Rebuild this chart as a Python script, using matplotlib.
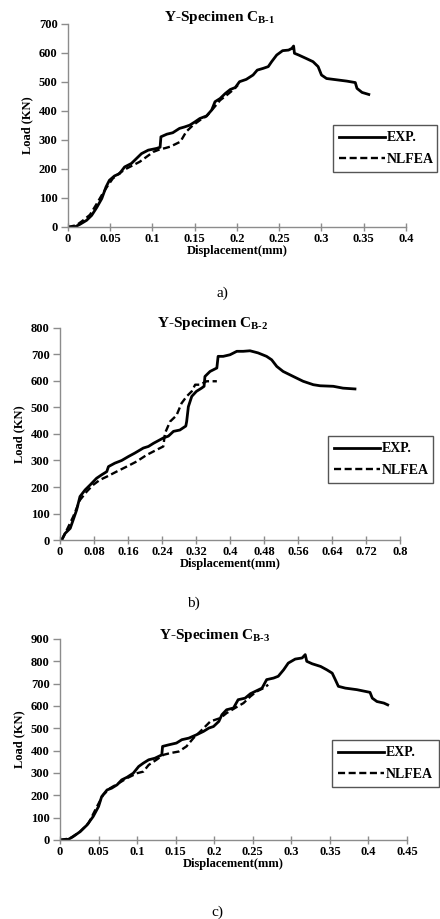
import matplotlib
matplotlib.use("Agg")
import matplotlib.pyplot as plt
from matplotlib.lines import Line2D

plt.rcParams['font.family'] = ['Liberation Serif', 'DejaVu Serif']
plt.rcParams['font.weight'] = 'bold'
plt.rcParams['mathtext.fontset'] = 'custom'
plt.rcParams['mathtext.rm'] = 'Liberation Serif:bold'
plt.rcParams['mathtext.bf'] = 'Liberation Serif:bold'
plt.rcParams['mathtext.it'] = 'Liberation Serif:bold'

# ---- Panel a data ----
a_exp_x = [0, 0.008, 0.014, 0.022, 0.028, 0.034, 0.040, 0.045, 0.049, 0.055, 0.061, 0.067, 0.075, 0.081,
           0.087, 0.095, 0.105, 0.109, 0.110, 0.117, 0.124, 0.132, 0.138, 0.144, 0.150, 0.156, 0.164, 0.170,
           0.174, 0.180, 0.186, 0.192, 0.198, 0.203, 0.211, 0.219, 0.224, 0.231, 0.237, 0.241, 0.247, 0.254,
           0.261, 0.265, 0.267, 0.268, 0.273, 0.282, 0.290, 0.296, 0.300, 0.306, 0.314, 0.330, 0.340, 0.342,
           0.348, 0.356]
a_exp_y = [0, 0, 9, 23, 40, 67, 98, 138, 161, 176, 184, 207, 219, 236,
           253, 265, 271, 275, 311, 320, 325, 340, 345, 351, 362, 374, 383, 403,
           432, 443, 460, 474, 481, 501, 509, 524, 541, 547, 553, 570, 593, 608,
           610, 616, 624, 599, 593, 581, 570, 553, 524, 512, 509, 503, 498, 478,
           464, 457]
a_fea_x = [0, 0.010, 0.018, 0.026, 0.034, 0.041, 0.047, 0.053, 0.061, 0.069, 0.077, 0.085, 0.093, 0.101,
           0.109, 0.115, 0.121, 0.133, 0.140, 0.148, 0.156, 0.164, 0.172, 0.180, 0.188, 0.196, 0.201]
a_fea_y = [0, 6, 23, 42, 80, 115, 142, 167, 186, 201, 213, 225, 242, 259,
           268, 272, 277, 294, 329, 351, 368, 382, 409, 437, 455, 474, 489]

# ---- Panel b data ----
b_exp_x = [0.004, 0.012, 0.024, 0.031, 0.039, 0.047, 0.059, 0.071, 0.086, 0.098, 0.110, 0.114, 0.129,
           0.145, 0.161, 0.176, 0.196, 0.208, 0.220, 0.235, 0.243, 0.255, 0.267, 0.282, 0.296, 0.298,
           0.302, 0.310, 0.321, 0.333, 0.339, 0.341, 0.353, 0.369, 0.372, 0.384, 0.400, 0.416, 0.431,
           0.447, 0.466, 0.486, 0.498, 0.510, 0.525, 0.549, 0.572, 0.596, 0.612, 0.643, 0.666, 0.694]
b_exp_y = [0, 25, 44, 76, 113, 164, 189, 208, 233, 246, 258, 277, 290,
           300, 315, 328, 347, 353, 365, 378, 385, 392, 410, 415, 430, 447,
           503, 542, 561, 573, 580, 617, 636, 649, 693, 693, 699, 712, 712,
           714, 706, 693, 680, 655, 636, 617, 599, 586, 582, 580, 573, 570]
b_fea_x = [0.004, 0.016, 0.031, 0.047, 0.063, 0.078, 0.094, 0.110, 0.133, 0.157, 0.180, 0.204, 0.227,
           0.243, 0.247, 0.259, 0.274, 0.286, 0.298, 0.310, 0.318, 0.329, 0.345, 0.369]
b_fea_y = [0, 38, 88, 151, 183, 208, 227, 239, 258, 277, 296, 321, 340,
           353, 403, 447, 470, 516, 542, 561, 586, 586, 599, 599]

# ---- Panel c data ----
c_exp_x = [0, 0.011, 0.017, 0.026, 0.035, 0.043, 0.050, 0.054, 0.061, 0.067, 0.074, 0.080, 0.087, 0.095,
           0.102, 0.108, 0.115, 0.123, 0.132, 0.133, 0.141, 0.151, 0.158, 0.167, 0.177, 0.186, 0.193,
           0.199, 0.206, 0.210, 0.216, 0.225, 0.231, 0.240, 0.247, 0.253, 0.262, 0.268, 0.277, 0.283,
           0.290, 0.296, 0.305, 0.314, 0.318, 0.320, 0.327, 0.338, 0.346, 0.353, 0.357, 0.361, 0.370,
           0.385, 0.402, 0.405, 0.411, 0.420, 0.425]
c_exp_y = [0, 3, 15, 37, 67, 105, 150, 194, 224, 232, 247, 269, 281, 299,
           329, 344, 359, 366, 381, 419, 426, 434, 449, 456, 471, 486, 501,
           508, 531, 561, 583, 591, 628, 635, 655, 665, 680, 718, 725, 733,
           762, 792, 810, 815, 830, 800, 789, 777, 762, 747, 718, 688, 680,
           673, 661, 635, 620, 613, 605]
c_fea_x = [0, 0.013, 0.026, 0.037, 0.048, 0.056, 0.065, 0.076, 0.087, 0.100, 0.108, 0.115, 0.125, 0.134,
           0.143, 0.154, 0.164, 0.173, 0.182, 0.195, 0.208, 0.216, 0.227, 0.238, 0.247, 0.255, 0.264, 0.270]
c_fea_y = [0, 7, 37, 75, 150, 202, 232, 254, 277, 299, 306, 336, 359, 381,
           389, 396, 419, 456, 486, 531, 546, 568, 591, 613, 643, 665, 680, 695]

panels = [
    dict(rect=[0.1545, 0.7530, 0.7682, 0.2209], exp=(a_exp_x, a_exp_y), fea=(a_fea_x, a_fea_y),
         xlim=(0, 0.4), xticks=[0, 0.05, 0.1, 0.15, 0.2, 0.25, 0.3, 0.35, 0.4],
         xlabels=['0', '0.05', '0.1', '0.15', '0.2', '0.25', '0.3', '0.35', '0.4'],
         ylim=(0, 700), yticks=list(range(0, 701, 100)), sub='B-1', title_x=220, title_y=18,
         leg=(333, 123, 104, 49), cap='a)', cap_x=222, cap_y=293),
    dict(rect=[0.1364, 0.4124, 0.7727, 0.2307], exp=(b_exp_x, b_exp_y), fea=(b_fea_x, b_fea_y),
         xlim=(0, 0.8), xticks=[0, 0.08, 0.16, 0.24, 0.32, 0.4, 0.48, 0.56, 0.64, 0.72, 0.8],
         xlabels=['0', '0.08', '0.16', '0.24', '0.32', '0.4', '0.48', '0.56', '0.64', '0.72', '0.8'],
         ylim=(0, 800), yticks=list(range(0, 801, 100)), sub='B-2', title_x=213, title_y=323,
         leg=(328, 434, 105, 49), cap='b)', cap_x=193, cap_y=603),
    dict(rect=[0.1364, 0.0860, 0.7886, 0.2187], exp=(c_exp_x, c_exp_y), fea=(c_fea_x, c_fea_y),
         xlim=(0, 0.45), xticks=[0, 0.05, 0.1, 0.15, 0.2, 0.25, 0.3, 0.35, 0.4, 0.45],
         xlabels=['0', '0.05', '0.1', '0.15', '0.2', '0.25', '0.3', '0.35', '0.4', '0.45'],
         ylim=(0, 900), yticks=list(range(0, 901, 100)), sub='B-3', title_x=215, title_y=635,
         leg=(332, 738, 107, 49), cap='c)', cap_x=217, cap_y=912),
]

W, H = 440, 919
fig = plt.figure(figsize=(W / 100, H / 100), dpi=100)
spine_c = '#8c8c8c'
dash = (0, (3.0, 1.5))

for p in panels:
    ax = fig.add_axes(p['rect'])
    ax.plot(*p['exp'], color='black', lw=2.0, solid_joinstyle='round')
    ax.plot(*p['fea'], color='black', lw=1.7, ls=dash)
    ax.set_xlim(*p['xlim'])
    ax.set_ylim(*p['ylim'])
    ax.set_xticks(p['xticks'])
    ax.set_xticklabels(p['xlabels'])
    ax.set_yticks(p['yticks'])
    for s in ['top', 'right']:
        ax.spines[s].set_visible(False)
    for s in ['left', 'bottom']:
        ax.spines[s].set_color(spine_c)
        ax.spines[s].set_linewidth(1.0)
    ax.tick_params(axis='x', direction='inout', length=6, width=1.0, color=spine_c,
                   labelsize=9, pad=1.5)
    ax.tick_params(axis='y', direction='out', length=5, width=1.0, color=spine_c,
                   labelsize=9, pad=2.5)
    for lab in ax.get_xticklabels() + ax.get_yticklabels():
        lab.set_fontweight('bold')
    ax.set_xlabel('Displacement(mm)', fontsize=9, fontweight='bold', labelpad=0)
    ax.set_ylabel('Load (KN)', fontsize=9, fontweight='bold', labelpad=4)
    fig.text(p['title_x'] / W, 1 - p['title_y'] / H,
             'Y-Specimen C$_{\\mathrm{' + p['sub'].replace('-', '\\text{-}') + '}}$',
             ha='center', va='center', fontsize=11, fontweight='bold')
    fig.text(p['cap_x'] / W, 1 - p['cap_y'] / H, p['cap'], ha='center', va='center',
             fontsize=11, fontweight='normal')
    lx, ly, lw, lh = p['leg']
    handles = [Line2D([], [], color='black', lw=2.0),
               Line2D([], [], color='black', lw=1.7, ls=dash)]
    fig.legend(handles, ['EXP.', 'NLFEA'], loc='lower left',
               bbox_to_anchor=(lx / W, 1 - (ly + lh) / H, lw / W, lh / H),
               mode='expand', fancybox=False, edgecolor='#555555', framealpha=1,
               prop={'family': 'Liberation Serif', 'weight': 'bold', 'size': 10},
               handlelength=3.3, handletextpad=0.15, borderpad=0.45, labelspacing=0.6,
               borderaxespad=0)

fig.savefig('out.png', dpi=100)
